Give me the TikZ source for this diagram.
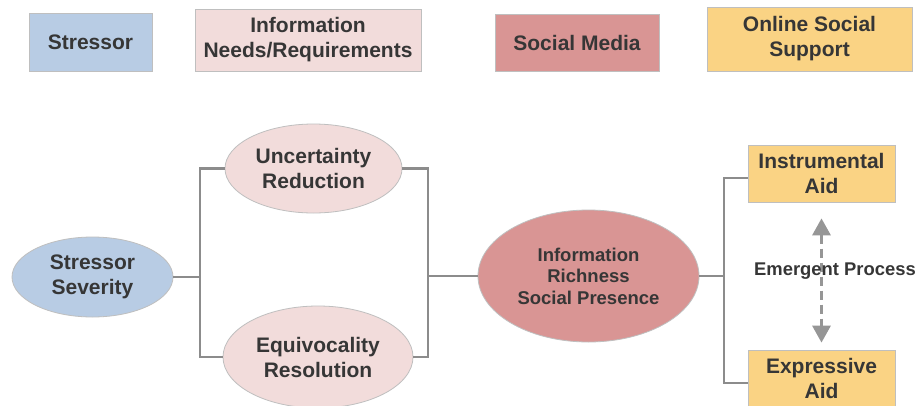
\documentclass[tikz,border=0pt]{standalone}
\usepackage{fontspec}
\setmainfont{Liberation Sans}
\usetikzlibrary{shapes.geometric,arrows.meta}
\definecolor{cblue}{HTML}{B8CCE4}
\definecolor{cpink}{HTML}{F2DCDB}
\definecolor{cred}{HTML}{D99594}
\definecolor{cyellow}{HTML}{FAD384}
\definecolor{ctext}{HTML}{363636}
\definecolor{cborder}{HTML}{BFBFBF}
\definecolor{cline}{HTML}{8C8C8C}
\definecolor{carrow}{HTML}{969696}
\begin{document}
\begin{tikzpicture}[x=1pt,y=-1pt,
  bigfont/.style={font=\bfseries\fontsize{21}{25}\selectfont},
  smallfont/.style={font=\bfseries\fontsize{18.5}{21.5}\selectfont},
  box/.style={rectangle,draw=cborder,line width=0.8pt,inner sep=0pt,align=center,text=ctext,bigfont},
  ell/.style={ellipse,draw=cborder,line width=0.8pt,inner sep=0pt,align=center,text=ctext,bigfont},
  conn/.style={draw=cline,line width=2.6pt},
  darrow/.style={draw=carrow,line width=3.2pt,dash pattern=on 9pt off 5pt,
    {Triangle[width=18pt,length=17pt]}-{Triangle[width=18pt,length=17pt]}}]
\useasboundingbox (0,0) rectangle (916,405);
\fill[white] (0,0) rectangle (916,405);

% legend
\node[box,fill=cblue,minimum width=123pt,minimum height=58pt] (l1) at (90.5,42) {Stressor};
\node[box,fill=cpink,minimum width=226pt,minimum height=62pt] (l2) at (308,40) {Information\\Needs/Requirements};
\node[box,fill=cred,minimum width=164pt,minimum height=57pt] (l3) at (577,42.5) {Social Media};
\node[box,fill=cyellow,minimum width=205pt,minimum height=64pt] (l4) at (809.5,39) {Online Social\\Support};

% main nodes
\node[ell,fill=cblue,minimum width=161pt,minimum height=80pt] (ss) at (92.5,277) {Stressor\\Severity};
\node[ell,fill=cpink,minimum width=177pt,minimum height=89pt] (ur) at (313.5,168.5) {Uncertainty\\Reduction};
\node[ell,fill=cpink,minimum width=190pt,minimum height=102pt] (er) at (318,357) {Equivocality\\Resolution};
\node[ell,fill=cred,smallfont,minimum width=221pt,minimum height=132pt] (ir) at (588.5,276) {Information\\Richness\\Social Presence};
\node[box,fill=cyellow,minimum width=147pt,minimum height=57pt] (ia) at (821.5,173.5) {Instrumental\\Aid};
\node[box,fill=cyellow,minimum width=147pt,minimum height=57pt] (ea) at (821.5,378.5) {Expressive\\Aid};

% connectors
\coordinate (b1) at (200,0);
\coordinate (b2) at (428,0);
\coordinate (b3) at (724,0);
\draw[conn] (ss.east) -- (ss.east -| b1);
\draw[conn] (ur.west) -- (ur.west -| b1) -- (er.west -| b1) -- (er.west);
\draw[conn] (ur.east) -- (ur.east -| b2) -- (er.east -| b2) -- (er.east);
\draw[conn] (ir.west -| b2) -- (ir.west);
\draw[conn] (ir.east) -- (ir.east -| b3);
\draw[conn] ([yshift=-4.5pt]ia.west) -- ([yshift=-4.5pt]ia.west -| b3) -- ([yshift=-4.5pt]ea.west -| b3) -- ([yshift=-4.5pt]ea.west);

% emergent process
\draw[darrow] ([yshift=-16pt]ia.south) -- ([yshift=7pt]ea.north);
\node[font=\bfseries\fontsize{18.4}{22}\selectfont,text=ctext,anchor=base,inner sep=0pt] (ep) at (835,275) {Emergent Process};
\end{tikzpicture}
\end{document}
